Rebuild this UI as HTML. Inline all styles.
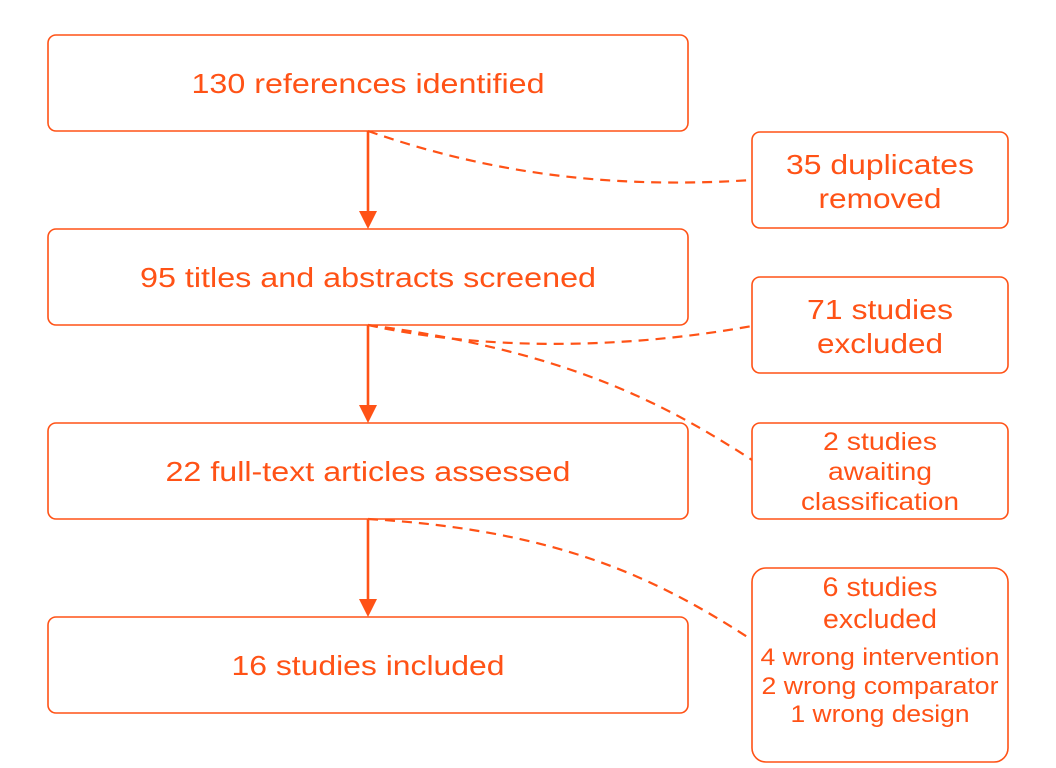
<!DOCTYPE html>
<html><head><meta charset="utf-8"><style>
html,body{margin:0;padding:0;background:#fff;}
svg{display:block;}
text{font-family:"Liberation Sans",sans-serif;fill:#ff5216;text-anchor:middle;}
</style></head><body>
<svg width="1056" height="768" viewBox="0 0 1056 768">
<g fill="none" stroke="#ff5216" stroke-width="1.6">
<rect x="48" y="35" width="640" height="96" rx="8"/>
<rect x="48" y="229" width="640" height="96" rx="8"/>
<rect x="48" y="423" width="640" height="96" rx="8"/>
<rect x="48" y="617" width="640" height="96" rx="8"/>
<rect x="752" y="132" width="256" height="96" rx="8"/>
<rect x="752" y="277" width="256" height="96" rx="8"/>
<rect x="752" y="423" width="256" height="96" rx="8"/>
<rect x="752" y="568" width="256" height="194" rx="14"/>
</g>
<g stroke="#ff5216" stroke-width="2.6" fill="none">
<line x1="368" y1="131" x2="368" y2="215"/>
<line x1="368" y1="325" x2="368" y2="409"/>
<line x1="368" y1="519" x2="368" y2="603"/>
</g>
<g fill="#ff5216">
<path d="M359,211L377,211L368,229z"/><path d="M359,405L377,405L368,423z"/><path d="M359,599L377,599L368,617z"/>
</g>
<g stroke="#ff5216" stroke-width="2.2" fill="none" stroke-dasharray="10,7">
<path d="M368,131 C480,170 600,190 752,180"/>
<path d="M368,325 C480,350 620,350 752,326"/>
<path d="M368,325 C560,350 660,400 752,460"/>
<path d="M368,519 C560,530 660,580 752,640"/>
</g>
<g lengthAdjust="spacingAndGlyphs">
<text x="368" y="93" font-size="28" textLength="353" lengthAdjust="spacingAndGlyphs">130 references identified</text>
<text x="368" y="287" font-size="28" textLength="456" lengthAdjust="spacingAndGlyphs">95 titles and abstracts screened</text>
<text x="368" y="481" font-size="28" textLength="405" lengthAdjust="spacingAndGlyphs">22 full-text articles assessed</text>
<text x="368" y="675" font-size="28" textLength="273" lengthAdjust="spacingAndGlyphs">16 studies included</text>
<text x="880" y="174" font-size="28" textLength="188" lengthAdjust="spacingAndGlyphs">35 duplicates</text>
<text x="880" y="208" font-size="28" textLength="123" lengthAdjust="spacingAndGlyphs">removed</text>
<text x="880" y="319" font-size="28" textLength="146" lengthAdjust="spacingAndGlyphs">71 studies</text>
<text x="880" y="353" font-size="28" textLength="126" lengthAdjust="spacingAndGlyphs">excluded</text>
<text x="880" y="450" font-size="25" textLength="114" lengthAdjust="spacingAndGlyphs">2 studies</text>
<text x="880" y="480" font-size="25" textLength="104" lengthAdjust="spacingAndGlyphs">awaiting</text>
<text x="880" y="510" font-size="25" textLength="158" lengthAdjust="spacingAndGlyphs">classification</text>
<text x="880" y="596" font-size="27" textLength="115" lengthAdjust="spacingAndGlyphs">6 studies</text>
<text x="880" y="628" font-size="27" textLength="114" lengthAdjust="spacingAndGlyphs">excluded</text>
<text x="880" y="665" font-size="24" textLength="239" lengthAdjust="spacingAndGlyphs">4 wrong intervention</text>
<text x="880" y="694" font-size="24" textLength="237" lengthAdjust="spacingAndGlyphs">2 wrong comparator</text>
<text x="880" y="722" font-size="24" textLength="179" lengthAdjust="spacingAndGlyphs">1 wrong design</text>
</g>
</svg>
</body></html>
